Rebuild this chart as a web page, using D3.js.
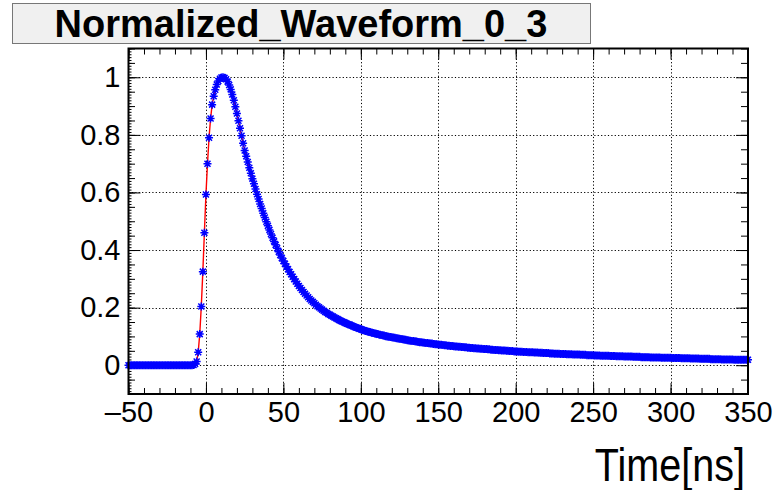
<!DOCTYPE html>
<html>
<head>
<meta charset="utf-8">
<script src="https://cdn.jsdelivr.net/npm/d3@7"></script>
<style>
  body { margin: 0; background: #fff; }
  svg { display: block; }
  .tick text { font-family: "Liberation Sans", Arial, sans-serif; }
</style>
</head>
<body>
<svg id="chart" width="782" height="490"></svg>
<script>
// waveform samples, 1 ns apart starting at -50 ns
var sampleStart = -50;
var sampleStep = 1;

// -50 .. -11 ns
var baseline = [
  0,0,0,0,0,0,0,0,0,0,
  0,0,0,0,0,0,0,0,0,0,
  0,0,0,0,0,0,0,0,0,0,
  0,0,0,0,0,0,0,0,0,0
];
// -10 .. 99 ns
var pulse = [
  0,0,0.001,0.004,0.013,0.045,0.108,0.204,0.325,0.460,
  0.593,0.700,0.790,0.857,0.905,0.934,0.957,0.975,0.987,0.995,
  0.999,1.000,0.998,0.993,0.985,0.973,0.958,0.940,0.920,0.898,
  0.874,0.849,0.823,0.797,0.771,0.746,0.726,0.706,0.686,0.667,
  0.648,0.630,0.612,0.594,0.577,0.560,0.544,0.528,0.513,0.498,
  0.484,0.470,0.456,0.443,0.430,0.418,0.406,0.394,0.383,0.372,
  0.362,0.352,0.343,0.333,0.324,0.316,0.307,0.299,0.291,0.283,
  0.275,0.268,0.261,0.254,0.248,0.242,0.236,0.230,0.225,0.220,
  0.215,0.210,0.205,0.201,0.197,0.193,0.189,0.185,0.182,0.178,
  0.175,0.172,0.169,0.166,0.163,0.160,0.157,0.154,0.152,0.149,
  0.147,0.144,0.142,0.140,0.138,0.135,0.133,0.131,0.129,0.127
];
// 100 .. 350 ns
var tail = [
  0.125,0.123,0.121,0.119,0.118,0.116,0.115,0.113,0.112,0.110,
  0.109,0.108,0.106,0.105,0.104,0.103,0.101,0.100,0.099,0.098,
  0.097,0.096,0.095,0.094,0.093,0.092,0.091,0.090,0.089,0.088,
  0.087,0.086,0.085,0.084,0.084,0.083,0.082,0.081,0.080,0.080,
  0.079,0.078,0.077,0.077,0.076,0.075,0.075,0.074,0.073,0.073,
  0.072,0.071,0.071,0.070,0.069,0.069,0.068,0.068,0.067,0.067,
  0.066,0.065,0.065,0.064,0.064,0.063,0.063,0.062,0.062,0.061,
  0.061,0.060,0.060,0.059,0.059,0.058,0.058,0.057,0.057,0.056,
  0.056,0.056,0.055,0.055,0.054,0.054,0.053,0.053,0.053,0.052,
  0.052,0.051,0.051,0.051,0.050,0.050,0.049,0.049,0.049,0.048,
  0.048,0.048,0.047,0.047,0.047,0.046,0.046,0.046,0.045,0.045,
  0.045,0.045,0.044,0.044,0.044,0.043,0.043,0.043,0.042,0.042,
  0.042,0.042,0.041,0.041,0.041,0.040,0.040,0.040,0.040,0.039,
  0.039,0.039,0.039,0.038,0.038,0.038,0.038,0.037,0.037,0.037,
  0.037,0.037,0.036,0.036,0.036,0.036,0.035,0.035,0.035,0.035,
  0.035,0.034,0.034,0.034,0.034,0.033,0.033,0.033,0.033,0.033,
  0.033,0.032,0.032,0.032,0.032,0.031,0.031,0.031,0.031,0.031,
  0.030,0.030,0.030,0.030,0.030,0.030,0.029,0.029,0.029,0.029,
  0.029,0.028,0.028,0.028,0.028,0.028,0.028,0.027,0.027,0.027,
  0.027,0.027,0.027,0.027,0.026,0.026,0.026,0.026,0.026,0.026,
  0.026,0.025,0.025,0.025,0.025,0.025,0.025,0.024,0.024,0.024,
  0.024,0.024,0.024,0.023,0.023,0.023,0.023,0.023,0.023,0.022,
  0.022,0.022,0.022,0.022,0.022,0.022,0.021,0.021,0.021,0.021,
  0.021,0.021,0.021,0.020,0.020,0.020,0.020,0.020,0.020,0.020,
  0.020,0.019,0.019,0.019,0.019,0.019,0.019,0.019,0.019,0.019,
  0.019
];

var xTicks = [-50, 0, 50, 100, 150, 200, 250, 300, 350];
var xTickLabels = ["\u201350", "0", "50", "100", "150", "200", "250", "300", "350"];
var yTicks = [0, 0.2, 0.4, 0.6, 0.8, 1];
var yTickLabels = ["0", "0.2", "0.4", "0.6", "0.8", "1"];

var title = "Normalized_Waveform_0_3";
var xTitle = "Time[ns]";

var amp = baseline.concat(pulse, tail);
var points = amp.map(function(v, i) { return [sampleStart + i * sampleStep, v]; });

var svg = d3.select("#chart");
var fLeft = 128.5, fRight = 748, fTop = 48.5, fBottom = 394;

var x = d3.scaleLinear().domain([-50, 350]).range([fLeft, fRight]);
var y = d3.scaleLinear().domain([-0.1, 1.1]).range([fBottom, fTop]);

// title box
svg.append("rect")
  .attr("x", 12.5).attr("y", 3.5).attr("width", 578).attr("height", 40)
  .attr("fill", "#f0f0f0").attr("stroke", "#777").attr("stroke-width", 1);
svg.append("text")
  .attr("x", 301).attr("y", 37)
  .attr("text-anchor", "middle")
  .attr("font-family", "Liberation Sans, Arial, sans-serif")
  .attr("font-weight", "bold")
  .attr("font-size", 38)
  .text(title);

// grid
var grid = svg.append("g").attr("stroke", "#000").attr("stroke-width", 1)
  .attr("stroke-dasharray", "1.2,2.2");
grid.selectAll(".gx").data(xTicks.slice(1, -1)).enter().append("line")
  .attr("x1", function(d) { return Math.round(x(d)) + 0.5; })
  .attr("x2", function(d) { return Math.round(x(d)) + 0.5; })
  .attr("y1", fTop).attr("y2", fBottom);
grid.selectAll(".gy").data(yTicks).enter().append("line")
  .attr("y1", function(d) { return Math.round(y(d)) + 0.5; })
  .attr("y2", function(d) { return Math.round(y(d)) + 0.5; })
  .attr("x1", fLeft).attr("x2", fRight);

// ticks
function noLine(g) { g.select(".domain").remove(); g.selectAll("line").attr("stroke", "#000"); }

var xMinor = d3.range(-50, 351, 10);
var yMid = d3.range(-10, 111, 5).map(function(d) { return d / 100; });
var yFine = d3.range(-10, 111, 1).map(function(d) { return d / 100; });

svg.append("g").attr("transform", "translate(0," + fBottom + ")")
  .call(d3.axisBottom(x).tickValues(xMinor).tickSize(-6).tickFormat("")).call(noLine);
svg.append("g").attr("transform", "translate(0," + fTop + ")")
  .call(d3.axisTop(x).tickValues(xMinor).tickSize(-6).tickFormat("")).call(noLine);
var xAxis = svg.append("g").attr("transform", "translate(0," + fBottom + ")")
  .call(d3.axisBottom(x).tickValues(xTicks).tickSize(-11).tickPadding(7)
    .tickFormat(function(d, i) { return xTickLabels[i]; }))
  .call(noLine);
xAxis.selectAll("text").attr("font-size", 29).attr("fill", "#000");
svg.append("g").attr("transform", "translate(0," + fTop + ")")
  .call(d3.axisTop(x).tickValues(xTicks).tickSize(-11).tickFormat("")).call(noLine);

svg.append("g").attr("transform", "translate(" + fLeft + ",0)")
  .call(d3.axisLeft(y).tickValues(yFine).tickSize(-3).tickFormat("")).call(noLine);
svg.append("g").attr("transform", "translate(" + fLeft + ",0)")
  .call(d3.axisLeft(y).tickValues(yMid).tickSize(-6.5).tickFormat("")).call(noLine);
var yAxis = svg.append("g").attr("transform", "translate(" + fLeft + ",0)")
  .call(d3.axisLeft(y).tickValues(yTicks).tickSize(-12).tickPadding(8)
    .tickFormat(function(d, i) { return yTickLabels[i]; }))
  .call(noLine);
yAxis.selectAll("text").attr("font-size", 29).attr("fill", "#000");
svg.append("g").attr("transform", "translate(" + fRight + ",0)")
  .call(d3.axisRight(y).tickValues(yMid).tickSize(-7).tickFormat("")).call(noLine);
svg.append("g").attr("transform", "translate(" + fRight + ",0)")
  .call(d3.axisRight(y).tickValues(yTicks).tickSize(-12).tickFormat("")).call(noLine);

// red line through the samples
svg.append("path").datum(points)
  .attr("fill", "none").attr("stroke", "#ff0000").attr("stroke-width", 1.4)
  .attr("d", d3.line().x(function(d) { return x(d[0]); }).y(function(d) { return y(d[1]); }));

// asterisk markers
var star = "M-4,0H4M0,-4V4M-3,-3L3,3M-3,3L3,-3";
svg.append("g").selectAll("path").data(points).enter().append("path")
  .attr("transform", function(d) { return "translate(" + x(d[0]) + "," + y(d[1]) + ")"; })
  .attr("d", star)
  .attr("fill", "none").attr("stroke", "#0000ff").attr("stroke-width", 1.5);

// frame
svg.append("rect")
  .attr("x", fLeft).attr("y", fTop).attr("width", fRight - fLeft).attr("height", fBottom - fTop)
  .attr("fill", "none").attr("stroke", "#000").attr("stroke-width", 2);

// axis title
svg.append("text")
  .attr("transform", "translate(745,481) scale(0.86,1)")
  .attr("text-anchor", "end")
  .attr("font-family", "Liberation Sans, Arial, sans-serif")
  .attr("font-size", 46)
  .text(xTitle);
</script>
</body>
</html>
